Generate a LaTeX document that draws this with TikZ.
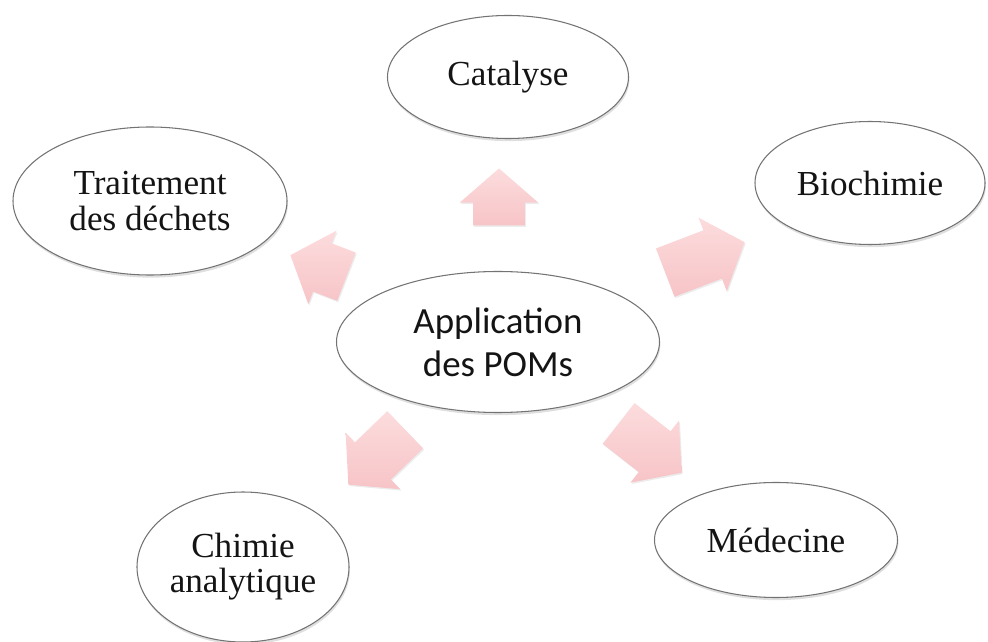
\documentclass[tikz,border=0pt]{standalone}
\usepackage{fontspec}
\setmainfont{Liberation Serif}
\newfontfamily\calibfont{Carlito}
\usetikzlibrary{positioning,shapes.geometric,shapes.arrows,shadows}
\definecolor{rose}{RGB}{247,196,199}
\definecolor{roseclair}{RGB}{252,220,221}

\begin{document}
\begin{tikzpicture}[scale=0.2]
		\tikzstyle{every node}+=[inner sep=0pt]
		\tikzstyle{domaine}=[ellipse, draw=black!55, line width=0.6pt, fill=white, align=center, text=black!92,
			font=\fontsize{20}{20}\selectfont, drop shadow={opacity=0.25, shadow xshift=0.5pt, shadow yshift=-1.5pt}]
		\tikzstyle{fleche}=[single arrow, draw=none, top color=roseclair, bottom color=rose, anchor=tip,
			minimum height=1.14cm, inner xsep=0pt, inner ysep=0.51cm,
			single arrow head extend=0.27cm, single arrow tip angle=98,
			drop shadow={opacity=0.15, shadow xshift=0.6pt, shadow yshift=-0.8pt}]
		\useasboundingbox (0,0) rectangle (98.8,-64.2);
		% fleches (placees par la pointe)
		\node [fleche, rotate=90] (fcat) at (49.9,-16.8) {};
		\node [fleche, rotate=159, minimum height=1.2cm] (ftrait) at (29.0,-25.5) {};
		\node [fleche, rotate=21, minimum height=1.7cm] (fbio) at (74.5,-24.2) {};
		\node [fleche, rotate=224, minimum height=1.58cm] (fchim) at (34.8,-48.5) {};
		\node [fleche, rotate=-38, minimum height=1.6cm] (fmed) at (68.2,-47.3) {};
		% ellipses
		\node [domaine, minimum width=6.46cm, minimum height=2.82cm, font=\calibfont\fontsize{21}{24.5}\selectfont] (app) at (49.8,-34.2) {Application\\des POMs};
		\node [domaine, minimum width=4.82cm, minimum height=2.46cm] (cat) at (50.8,-7.7) {Catalyse};
		\node [domaine, minimum width=5.48cm, minimum height=2.96cm] (trait) at (15.0,-20.1) {Traitement\\des déchets};
		\node [domaine, minimum width=4.6cm, minimum height=2.46cm] (bio) at (87.0,-18.3) {Biochimie};
		\node [domaine, minimum width=4.24cm, minimum height=3.0cm] (chim) at (24.3,-56.7) {Chimie\\analytique};
		\node [domaine, minimum width=4.86cm, minimum height=2.3cm] (med) at (77.6,-54.0) {Médecine};
	\end{tikzpicture}
\end{document}
